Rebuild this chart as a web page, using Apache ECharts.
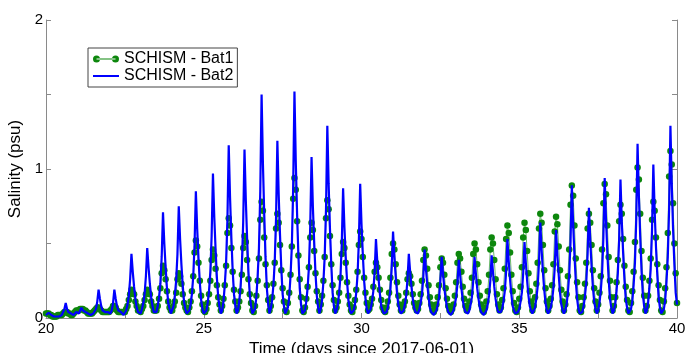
<!DOCTYPE html>
<html>
<head>
<meta charset="utf-8">
<script src="https://cdn.jsdelivr.net/npm/echarts@6/dist/echarts.min.js"></script>
<style>
  html, body { margin: 0; padding: 0; background: #fff; }
  #chart { width: 687px; height: 353px; }
</style>
</head>
<body>
<div id="chart"></div>
<script>
// hourly model output, day 20 -> day 40 (one row per day)
const startDay = 20;
const stepDays = 1 / 24;

// SCHISM - Bat1 (green, markers)
const bat1 = [
  0.03,0.03,0.03,0.02,0.02,0.01,0.01,0.01,0.01,0.02,0.02,0.02,0.02,0.03,0.04,0.04,0.04,0.03,0.03,0.02,0.02,0.03,0.04,0.05,
  0.05,0.05,0.06,0.06,0.06,0.05,0.05,0.04,0.03,0.03,0.03,0.03,0.04,0.05,0.06,0.07,0.07,0.06,0.05,0.04,0.04,0.04,0.04,0.04,
  0.04,0.05,0.06,0.08,0.08,0.07,0.05,0.04,0.04,0.04,0.04,0.04,0.04,0.06,0.08,0.12,0.16,0.19,0.17,0.16,0.11,0.08,0.05,0.05,
  0.04,0.06,0.08,0.12,0.16,0.19,0.17,0.16,0.11,0.08,0.05,0.05,0.05,0.08,0.13,0.20,0.30,0.35,0.32,0.26,0.18,0.11,0.07,0.05,
  0.05,0.08,0.11,0.17,0.26,0.30,0.28,0.23,0.16,0.10,0.07,0.05,0.04,0.07,0.11,0.18,0.28,0.44,0.52,0.48,0.37,0.25,0.15,0.09,
  0.05,0.04,0.06,0.10,0.16,0.25,0.39,0.46,0.42,0.33,0.22,0.14,0.09,0.05,0.08,0.13,0.22,0.35,0.57,0.67,0.62,0.47,0.31,0.19,
  0.11,0.05,0.07,0.11,0.18,0.29,0.47,0.55,0.51,0.39,0.26,0.16,0.10,0.05,0.04,0.08,0.15,0.25,0.40,0.66,0.78,0.72,0.54,0.36,
  0.22,0.12,0.05,0.08,0.14,0.23,0.37,0.60,0.70,0.64,0.49,0.32,0.20,0.11,0.05,0.04,0.10,0.17,0.29,0.48,0.80,0.94,0.86,0.65,
  0.42,0.26,0.14,0.05,0.04,0.07,0.13,0.21,0.34,0.54,0.64,0.59,0.45,0.30,0.18,0.11,0.05,0.09,0.15,0.25,0.41,0.67,0.79,0.73,
  0.55,0.36,0.22,0.12,0.05,0.07,0.11,0.17,0.27,0.43,0.51,0.47,0.37,0.24,0.15,0.09,0.05,0.04,0.07,0.12,0.19,0.31,0.49,0.58,
  0.53,0.41,0.27,0.17,0.10,0.05,0.06,0.09,0.13,0.21,0.31,0.37,0.34,0.27,0.19,0.12,0.07,0.05,0.04,0.07,0.11,0.17,0.27,0.43,
  0.50,0.46,0.36,0.24,0.15,0.09,0.05,0.05,0.08,0.11,0.17,0.26,0.30,0.28,0.23,0.16,0.10,0.07,0.05,0.06,0.10,0.16,0.25,0.39,
  0.46,0.42,0.33,0.22,0.14,0.09,0.05,0.04,0.06,0.09,0.14,0.22,0.34,0.40,0.37,0.29,0.20,0.13,0.08,0.05,0.04,0.06,0.09,0.15,
  0.24,0.37,0.43,0.40,0.31,0.21,0.13,0.08,0.05,0.07,0.11,0.17,0.27,0.43,0.50,0.46,0.36,0.24,0.15,0.09,0.05,0.04,0.07,0.11,
  0.18,0.29,0.46,0.54,0.50,0.39,0.26,0.16,0.09,0.05,0.07,0.12,0.20,0.33,0.53,0.62,0.57,0.44,0.29,0.18,0.10,0.05,0.04,0.07,
  0.13,0.21,0.34,0.54,0.64,0.59,0.45,0.30,0.18,0.11,0.05,0.08,0.14,0.23,0.37,0.60,0.70,0.64,0.49,0.32,0.20,0.11,0.05,0.08,
  0.13,0.22,0.36,0.58,0.68,0.63,0.48,0.32,0.19,0.11,0.05,0.09,0.16,0.28,0.46,0.76,0.89,0.82,0.62,0.40,0.24,0.14,0.05,0.04,
  0.08,0.14,0.23,0.37,0.60,0.70,0.64,0.49,0.32,0.20,0.11,0.05,0.09,0.17,0.28,0.46,0.77,0.90,0.83,0.62,0.41,0.25,0.14,0.05,
  0.08,0.14,0.24,0.39,0.65,0.76,0.70,0.53,0.35,0.21,0.12,0.05,0.04,0.10,0.18,0.31,0.51,0.86,1.01,0.93,0.70,0.45,0.27,0.15,
  0.05,0.08,0.15,0.25,0.40,0.66,0.78,0.72,0.54,0.36,0.22,0.12,0.05,0.04,0.11,0.20,0.34,0.57,0.95,1.12,1.03,0.77,0.50,0.30,
  0.10
];

// SCHISM - Bat2 (blue line)
const bat2 = [
  0.02,0.03,0.035,0.03,0.02,0.015,0.01,0.01,0.01,0.01,0.01,0.015,0.02,0.03,0.06,0.10,0.06,0.04,0.03,0.03,0.02,0.02,0.03,0.04,
  0.03,0.03,0.05,0.07,0.05,0.06,0.04,0.03,0.03,0.02,0.02,0.02,0.03,0.04,0.06,0.11,0.19,0.13,0.08,0.05,0.04,0.04,0.05,0.04,
  0.03,0.03,0.05,0.10,0.19,0.13,0.08,0.05,0.05,0.04,0.03,0.02,0.03,0.05,0.09,0.15,0.26,0.43,0.31,0.21,0.13,0.07,0.04,0.03,
  0.03,0.06,0.10,0.16,0.28,0.47,0.34,0.23,0.14,0.08,0.04,0.03,0.04,0.08,0.14,0.23,0.41,0.71,0.50,0.34,0.20,0.10,0.06,0.03,
  0.04,0.08,0.15,0.25,0.43,0.75,0.53,0.36,0.22,0.11,0.06,0.03,0.02,0.05,0.09,0.16,0.28,0.49,0.85,0.60,0.40,0.24,0.12,0.06,
  0.03,0.02,0.05,0.10,0.18,0.31,0.55,0.97,0.68,0.46,0.27,0.14,0.07,0.03,0.05,0.11,0.22,0.37,0.66,1.16,0.81,0.54,0.32,0.16,
  0.08,0.03,0.05,0.11,0.21,0.36,0.64,1.13,0.79,0.53,0.31,0.16,0.08,0.03,0.02,0.06,0.14,0.28,0.47,0.85,1.50,1.04,0.70,0.41,
  0.20,0.09,0.03,0.06,0.12,0.22,0.38,0.67,1.19,0.83,0.56,0.33,0.16,0.08,0.03,0.02,0.07,0.14,0.28,0.48,0.86,1.52,1.05,0.70,
  0.42,0.20,0.09,0.03,0.02,0.05,0.11,0.20,0.34,0.61,1.08,0.75,0.51,0.30,0.15,0.07,0.03,0.06,0.12,0.24,0.41,0.73,1.29,0.90,
  0.60,0.36,0.17,0.08,0.03,0.05,0.09,0.17,0.28,0.50,0.87,0.61,0.41,0.25,0.12,0.06,0.03,0.02,0.05,0.09,0.17,0.29,0.52,0.90,
  0.63,0.43,0.25,0.13,0.06,0.03,0.04,0.06,0.11,0.18,0.31,0.53,0.38,0.26,0.16,0.08,0.05,0.03,0.02,0.04,0.07,0.12,0.19,0.34,
  0.58,0.41,0.28,0.17,0.09,0.05,0.03,0.03,0.05,0.09,0.15,0.26,0.43,0.31,0.21,0.13,0.07,0.04,0.03,0.03,0.06,0.10,0.16,0.27,
  0.46,0.33,0.23,0.14,0.07,0.04,0.03,0.02,0.03,0.05,0.09,0.14,0.25,0.41,0.30,0.20,0.13,0.07,0.04,0.03,0.02,0.03,0.05,0.09,
  0.14,0.23,0.39,0.29,0.20,0.12,0.07,0.04,0.03,0.03,0.05,0.09,0.14,0.25,0.41,0.30,0.20,0.13,0.07,0.04,0.03,0.02,0.03,0.05,
  0.09,0.15,0.25,0.42,0.31,0.21,0.13,0.07,0.04,0.03,0.04,0.06,0.11,0.18,0.31,0.53,0.38,0.26,0.16,0.08,0.05,0.03,0.02,0.04,
  0.06,0.11,0.17,0.30,0.51,0.37,0.25,0.15,0.08,0.05,0.03,0.04,0.07,0.13,0.21,0.37,0.64,0.46,0.31,0.19,0.10,0.05,0.03,0.04,
  0.07,0.12,0.20,0.34,0.59,0.42,0.29,0.17,0.09,0.05,0.03,0.05,0.09,0.17,0.29,0.51,0.89,0.63,0.42,0.25,0.13,0.06,0.03,0.02,
  0.04,0.08,0.15,0.24,0.43,0.74,0.52,0.35,0.21,0.11,0.06,0.03,0.05,0.10,0.18,0.30,0.54,0.94,0.66,0.44,0.26,0.13,0.07,0.03,
  0.05,0.09,0.18,0.30,0.53,0.93,0.65,0.44,0.26,0.13,0.07,0.03,0.02,0.06,0.11,0.22,0.37,0.66,1.17,0.82,0.55,0.32,0.16,0.08,
  0.03,0.05,0.10,0.20,0.33,0.59,1.03,0.72,0.48,0.29,0.14,0.07,0.03,0.02,0.06,0.12,0.24,0.41,0.73,1.29,0.90,0.60,0.36,0.17,
  0.09
];

const xTicksLabelled = [20, 25, 30, 35, 40];
const yTicksLabelled = [0, 1, 2];

const font = "Liberation Sans";
const axisGrey = "#8a8a8a";
const green = "#0d870d";
const blue = "#0000ff";

const pairs = (vals) => vals.map((v, i) => [startDay + i * stepDays, v]);

const chart = echarts.init(document.getElementById("chart"), null, { renderer: "canvas" });

const option = {
  animation: false,
  backgroundColor: "#fff",
  grid: { left: 46, right: 10, top: 20, bottom: 35, outerBoundsMode: "none", containLabel: false },
  legend: {
    orient: "vertical",
    left: 88,
    top: 48,
    borderColor: "#444",
    borderWidth: 1,
    padding: [3, 4, 3, 5],
    itemGap: 1,
    itemWidth: 26,
    itemHeight: 7,
    textStyle: { fontFamily: font, fontSize: 16, color: "#000" },
    data: [
      {
        name: "SCHISM - Bat1",
        icon: "path://M0,3.5a3.5,3.5 0 1,0 7,0a3.5,3.5 0 1,0 -7,0Z M19,3.5a3.5,3.5 0 1,0 7,0a3.5,3.5 0 1,0 -7,0Z M3.5,2.9H22.5V4.1H3.5Z",
        itemStyle: { color: green, borderWidth: 0 }
      },
      {
        name: "SCHISM - Bat2",
        icon: "path://M0,0L0,0Z M26,7L26,7Z M0,2.6H26V4.4H0Z",
        itemStyle: { color: blue, borderWidth: 0 }
      }
    ]
  },
  xAxis: {
    type: "value",
    min: 20,
    max: 40,
    interval: 2.5,
    name: "Time (days since 2017-06-01)",
    nameLocation: "middle",
    nameGap: 22,
    nameTextStyle: { fontFamily: font, fontSize: 17, color: "#000" },
    axisLine: { lineStyle: { color: axisGrey, width: 1 } },
    axisTick: { inside: true, length: 5, lineStyle: { color: axisGrey } },
    axisLabel: {
      fontFamily: font, fontSize: 15, color: "#000", margin: 3,
      formatter: (v) => (xTicksLabelled.includes(v) ? String(v) : "")
    },
    splitLine: { show: false }
  },
  yAxis: [
    {
      type: "value",
      min: 0,
      max: 2,
      interval: 0.5,
      position: "left",
      name: "Salinity (psu)",
      nameLocation: "middle",
      nameGap: 18,
      nameTextStyle: { fontFamily: font, fontSize: 17, color: "#000" },
      axisLine: { show: true, lineStyle: { color: axisGrey, width: 1 } },
      axisTick: { show: true, inside: true, length: 5, lineStyle: { color: axisGrey } },
      axisLabel: {
        fontFamily: font, fontSize: 15, color: "#000", margin: 3,
        formatter: (v) => (yTicksLabelled.includes(v) ? String(v) : "")
      },
      splitLine: { show: false }
    },
    {
      type: "value",
      min: 0,
      max: 2,
      interval: 0.5,
      position: "right",
      axisLine: { show: true, lineStyle: { color: axisGrey, width: 1 } },
      axisTick: { show: true, inside: true, length: 5, lineStyle: { color: axisGrey } },
      axisLabel: { show: false },
      splitLine: { show: false }
    }
  ],
  series: [
    {
      name: "SCHISM - Bat1",
      type: "line",
      data: pairs(bat1),
      symbol: "circle",
      symbolSize: 6.5,
      showSymbol: true,
      showAllSymbol: true,
      itemStyle: { color: green, borderWidth: 0 },
      lineStyle: { color: "#2a9a2a", width: 1, opacity: 0.7 },
      z: 2
    },
    {
      name: "SCHISM - Bat2",
      type: "line",
      data: pairs(bat2),
      symbol: "none",
      itemStyle: { color: blue },
      lineStyle: { color: blue, width: 2.2 },
      z: 3
    }
  ]
};

chart.setOption(option);
</script>
</body>
</html>
